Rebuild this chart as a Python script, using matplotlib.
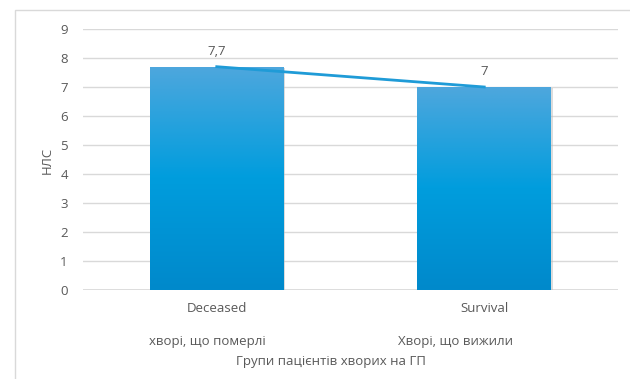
import numpy as np
import matplotlib.pyplot as plt
from matplotlib.patches import Rectangle
from matplotlib.colors import LinearSegmentedColormap

# Group data
groups_en = ['Deceased', 'Survival']
groups_ua = ['хворі, що померлі', 'Хворі, що вижили']
values = [7.7, 7.0]
value_labels = ['7,7', '7']

plt.rcParams['font.family'] = ['Open Sans', 'DejaVu Sans']
text_color = '#595959'

fig = plt.figure(figsize=(6.3, 3.79), dpi=100)
# outer chart border
fig.patches.append(Rectangle((15 / 630, -0.05), 1.0, 1 - 10 / 379 + 0.05,
                             transform=fig.transFigure, fill=False,
                             edgecolor='#d9d9d9', linewidth=1))

ax = fig.add_axes([83 / 630, 1 - 290 / 379, (618 - 83) / 630, (290 - 29) / 379])
x = np.arange(len(values))
ax.set_yticks(range(0, 10))
ax.yaxis.grid(True, color='#d9d9d9', linewidth=1)
ax.set_axisbelow(True)
for s in ax.spines.values():
    s.set_visible(False)
ax.tick_params(axis='y', length=0, pad=11, labelsize=9.5, labelcolor=text_color)
ax.tick_params(axis='x', length=0)
ax.set_xticks([])

# gradient bars with soft shadow
cmap = LinearSegmentedColormap.from_list('bar', ['#0089cb', '#009ddd', '#4ea7dd'])
grad = np.linspace(0, 1, 256).reshape(-1, 1)
bars = ax.bar(x, values, width=0.5, color='none')
for b in bars:
    bx, by = b.get_x(), b.get_y()
    w, h = b.get_width(), b.get_height()
    ax.add_patch(Rectangle((bx + 0.006, by - 0.04), w, h, facecolor='#bbbbbb',
                           alpha=0.5, edgecolor='none', zorder=1))
    im = ax.imshow(grad, cmap=cmap, aspect='auto', origin='lower',
                   extent=[bx, bx + w, by, by + h], zorder=2)
    im.set_clip_path(b)
    b.set_zorder(2)
ax.set_ylim(0, 9)
ax.set_xlim(-0.5, len(values) - 0.5)

ax.plot(x, values, color='#1f9bd7', linewidth=2, zorder=3)
for xi, v, lab in zip(x, values, value_labels):
    ax.text(xi, v + 0.3, lab, ha='center', va='bottom', fontsize=9.5, color=text_color)

ax.axhline(0, color='#d9d9d9', linewidth=1.2, zorder=0)

# category labels (English line under each bar, Ukrainian line below it)
trans = ax.get_xaxis_transform()
for xi, en in zip(x, groups_en):
    ax.text(xi, -19 / 261, en, transform=trans, ha='center', va='center',
            fontsize=9.5, color=text_color)
ua_pos = [-0.036, 0.891]
for xp, ua in zip(ua_pos, groups_ua):
    ax.text(xp, -52 / 261, ua, transform=trans, ha='center', va='center',
            fontsize=9.5, color=text_color)
fig.text(331 / 630, 1 - 361 / 379, 'Групи пацієнтів хворих на ГП',
         ha='center', va='center', fontsize=9.5, color=text_color)
fig.text(47 / 630, 1 - 160 / 379, 'НЛС', rotation=90, ha='center', va='center',
         fontsize=9.5, color=text_color)

fig.savefig('out.png', dpi=100)
